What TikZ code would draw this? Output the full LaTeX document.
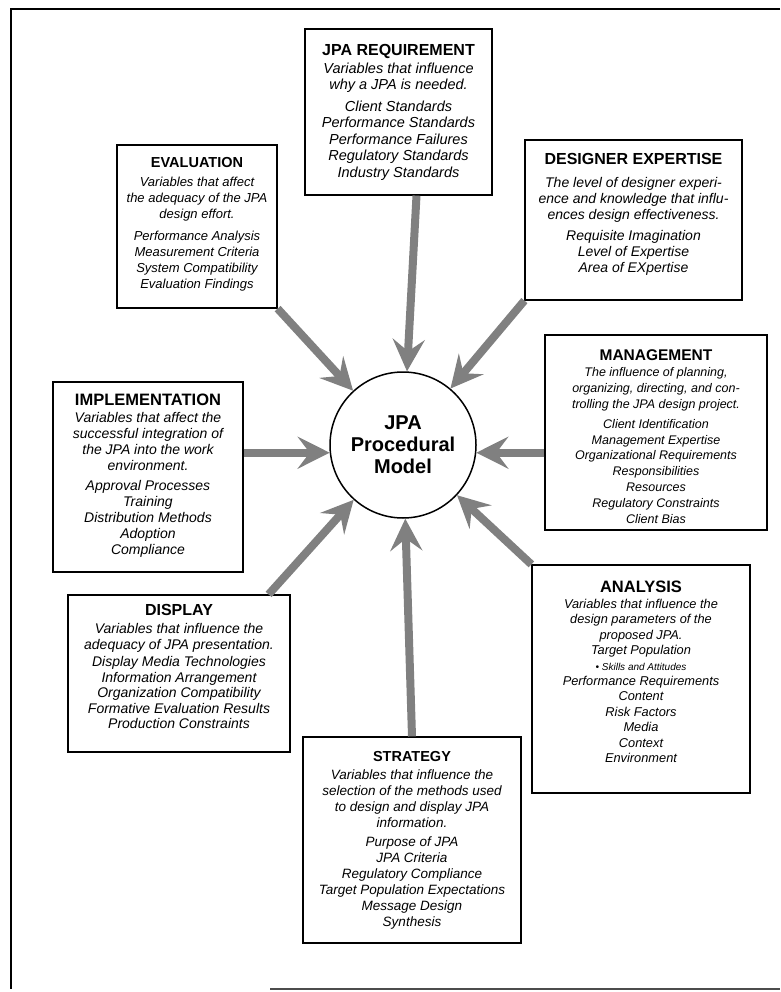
\documentclass[tikz,border=0pt]{standalone}
\usepackage{fontspec}
\setmainfont{Liberation Sans}
\usetikzlibrary{positioning,arrows.meta}
\newcommand{\headline}[2][15.5]{{\fontsize{#1}{15}\selectfont\upshape\bfseries #2}}

\begin{document}
\begin{tikzpicture}[x=1pt,y=-1pt,
  box/.style={draw,line width=1.2pt,inner sep=0pt},
  txt/.style 2 args={align=center,inner sep=0pt,font=\fontsize{#1}{#2}\selectfont\itshape},
  feed/.style={line width=8pt,black!50,-{Stealth[length=32pt,width=32pt,inset=12pt]}}]
\useasboundingbox (0,0) rectangle (780,992);
\draw[line width=2pt] (780,9) -- (11,9) -- (11,989);
\draw[line width=1.2pt,black!70] (270,989) -- (780,989);

% centre
\node[circle,draw,line width=1.5pt,minimum size=146pt,align=center,
      font=\fontsize{20}{22}\selectfont\bfseries] (model) at (403,445) {JPA\\Procedural\\Model};

% boxes
\node[box,minimum width=187pt,minimum height=166pt] (req) at (398.5,112) {};
\node[txt={14.5}{16.5},below=16pt of req.north] (reqtxt) {\headline[16]{JPA REQUIREMENT}\\[1pt]
  Variables that influence\\ why a JPA is needed.\\[5pt]
  Client Standards\\ Performance Standards\\ Performance Failures\\
  Regulatory Standards\\ Industry Standards};

\node[box,minimum width=160pt,minimum height=163pt] (eval) at (197,226.5) {};
\node[txt={13}{16},below=12.6pt of eval.north] (evaltxt) {\headline[14.5]{EVALUATION}\\[3pt]
  Variables that affect\\ the adequacy of the JPA\\ design effort.\\[6pt]
  Performance Analysis\\ Measurement Criteria\\ System Compatibility\\ Evaluation Findings};

\node[box,minimum width=217pt,minimum height=160pt] (des) at (633.5,220) {};
\node[txt={14}{15.8},below=14pt of des.north] (destxt) {\headline[16]{DESIGNER EXPERTISE}\\[7pt]
  The level of designer experi-\\ ence and knowledge that influ-\\ ences design effectiveness.\\[6pt]
  Requisite Imagination\\ Level of Expertise\\ Area of EXpertise};

\node[box,minimum width=222pt,minimum height=195pt] (man) at (656,432.5) {};
\node[txt={12.5}{15.8},below=14.6pt of man.north] (mantxt) {\headline[15.5]{MANAGEMENT}\\[1pt]
  The influence of planning,\\ organizing, directing, and con-\\ trolling the JPA design project.\\[4pt]
  Client Identification\\ Management Expertise\\ Organizational Requirements\\
  Responsibilities\\ Resources\\ Regulatory Constraints\\ Client Bias};

\node[box,minimum width=190pt,minimum height=190pt] (impl) at (148,477) {};
\node[txt={14}{16},below=12.6pt of impl.north] (impltxt) {\headline[16.5]{IMPLEMENTATION}\\[1pt]
  Variables that affect the\\ successful integration of\\ the JPA into the work\\ environment.\\[4pt]
  Approval Processes\\ Training\\ Distribution Methods\\ Adoption\\ Compliance};

\node[box,minimum width=222pt,minimum height=157pt] (disp) at (179,673.5) {};
\node[txt={14}{15.5},below=9.6pt of disp.north] (disptxt) {\headline[16]{DISPLAY}\\[3pt]
  Variables that influence the\\ adequacy of JPA presentation.\\[2pt]
  Display Media Technologies\\ Information Arrangement\\ Organization Compatibility\\
  Formative Evaluation Results\\ Production Constraints};

\node[box,minimum width=218pt,minimum height=228pt] (ana) at (641,679) {};
\node[txt={12.8}{15.4},below=16pt of ana.north] (anatxt) {\headline[16.5]{ANALYSIS}\\[1pt]
  Variables that influence the\\ design parameters of the\\ proposed JPA.\\
  Target Population\\ {\fontsize{10}{15}\selectfont • Skills and Attitudes}\\
  Performance Requirements\\ Content\\ Risk Factors\\ Media\\ Context\\ Environment};

\node[box,minimum width=218pt,minimum height=206pt] (strat) at (412,840) {};
\node[txt={13.5}{16},below=14.6pt of strat.north] (strattxt) {\headline[14.5]{STRATEGY}\\[2pt]
  Variables that influence the\\ selection of the methods used\\ to design and display JPA\\ information.\\[3pt]
  Purpose of JPA\\ JPA Criteria\\ Regulatory Compliance\\
  Target Population Expectations\\ Message Design\\ Synthesis};

% arrows into the model
\draw[feed] ([xshift=18pt]req.south) -- (model);
\draw[feed] (eval.south east) -- (model);
\draw[feed] (des.south west) -- (model);
\draw[feed] (man.west |- model.354) -- (model.354);
\draw[feed] (impl.east |- model.186) -- (model.186);
\draw[feed] ([xshift=-22pt]disp.north east) -- (model);
\draw[feed] (strat.north) -- (model);
\draw[feed] (ana.north west) -- (model);

\end{tikzpicture}
\end{document}
